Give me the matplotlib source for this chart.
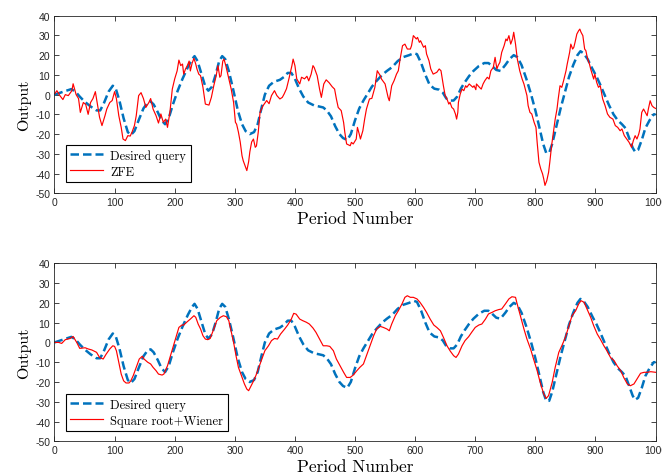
import numpy as np
import matplotlib
matplotlib.use('Agg')
import matplotlib.pyplot as plt

plt.rcParams['font.family'] = 'Liberation Sans'
plt.rcParams['axes.unicode_minus'] = False

# desired query (same in both panels)
desired_x = [0, 10, 20, 28, 35, 42, 50, 60, 70, 76, 82, 90, 97, 102, 108, 115, 122, 127, 133, 140,
             148, 155, 160, 165, 172, 178, 184, 190, 197, 205, 213, 222, 229, 233, 238, 245, 251, 256,
             262, 268, 274, 279, 284, 290, 297, 305, 312, 318, 325, 332, 338, 345, 350, 357, 365, 375,
             382, 388, 394, 400, 407, 414, 422, 432, 440, 447, 453, 460, 467, 474, 480, 487, 493, 500,
             507, 514, 520, 528, 536, 545, 553, 562, 571, 580, 590, 598, 603, 610, 617, 624, 632, 640,
             646, 652, 658, 664, 670, 676, 682, 690, 697, 706, 715, 722, 728, 735, 742, 750, 757, 764,
             770, 777, 785, 793, 800, 807, 813, 818, 823, 828, 835, 842, 849, 856, 863, 870, 875, 880,
             887, 895, 902, 908, 915, 922, 930, 937, 944, 950, 956, 962, 966, 971, 977, 983, 990, 997, 1000]
desired_y = [0, 1, 2, 2.8, 1.5, -1, -3.5, -6, -8, -8, -4.5, 1.5, 4.5, 3, -3, -12, -19, -20.5, -18.5, -13,
             -7, -4, -3.5, -5, -9, -13, -15, -12, -5, 2, 8, 14, 18, 19.5, 17, 10, 4, 2,
             4, 10, 17, 19.5, 18, 12, 3, -8, -15, -18.5, -20, -19, -15, -6, 0, 4.5, 6.5, 7.5,
             9, 11, 11, 8, 3, -1, -4, -5.5, -6, -6.5, -8, -11, -16, -20, -22, -23, -20, -13,
             -7, -3, 0, 4, 7, 10, 12, 14, 17, 19, 20, 21, 20.5, 16, 10, 5, 3, 2.5,
             1, -2, -3, -3, -1, 3, 6, 9.5, 12, 14.5, 16, 16, 14.5, 12.5, 12, 15, 18, 20,
             19, 15, 8, 0, -8, -17, -25, -29.5, -29.5, -25, -16, -7, 1, 9, 15, 20, 22, 21,
             18, 13, 9, 5, 0, -5, -10, -13, -15, -17, -22, -27, -29, -28, -23, -17, -13, -10, -10]

# ZFE estimate (top panel)
zfe_x = [0, 4, 9, 14, 18, 23, 29, 31, 36, 40, 43, 48, 52, 56, 60, 64, 68, 71, 75, 79, 84, 87, 92, 96,
         100, 103, 107, 111, 114, 118, 122, 126, 129, 133, 136, 140, 144, 148, 152, 157, 160, 164, 169,
         173, 177, 181, 185, 188, 192, 196, 200, 204, 207, 210, 213, 215, 218, 221, 224, 226, 229, 232,
         235, 237, 240, 243, 247, 251, 257, 261, 265, 269, 272, 275, 277, 280, 282, 285, 290, 294, 298,
         301, 303, 306, 309, 312, 314, 317, 320, 323, 325, 328, 331, 334, 336, 339, 342, 347, 353, 357,
         361, 366, 370, 375, 379, 382, 386, 390, 395, 397, 400, 403, 408, 411, 416, 420, 423, 427, 430,
         432, 437, 441, 444, 448, 452, 457, 462, 466, 469, 472, 477, 481, 483, 486, 492, 494, 497, 502,
         504, 507, 509, 513, 516, 519, 524, 528, 533, 537, 542, 544, 550, 555, 557, 561, 565, 569, 572,
         575, 579, 583, 587, 592, 594, 597, 602, 604, 607, 609, 614, 617, 619, 623, 626, 630, 636, 640,
         643, 647, 650, 653, 656, 658, 661, 664, 667, 669, 671, 672, 675, 678, 681, 684, 686, 690, 696,
         698, 701, 702, 707, 710, 713, 716, 720, 723, 726, 730, 733, 736, 738, 741, 744, 748, 751, 753,
         756, 759, 762, 764, 767, 770, 774, 778, 781, 786, 788, 791, 794, 798, 801, 803, 806, 809, 812,
         814, 816, 819, 822, 824, 827, 830, 833, 836, 838, 841, 844, 847, 851, 853, 857, 859, 862, 864,
         866, 869, 872, 874, 876, 879, 882, 884, 887, 890, 892, 897, 899, 902, 905, 908, 912, 916, 920,
         924, 929, 933, 937, 941, 944, 948, 952, 956, 960, 963, 966, 969, 972, 974, 977, 980, 983, 986,
         988, 991, 994, 997, 1000]
zfe_y = [0.3, 2, -0.5, -2.5, 0, -0.5, 2, 5.5, 0, -2, -9, -4, -5, -10, -4, -2, 1.5, -4, -11.5, -15.7, -10.7, -7.3, -4, -3,
         1.5, -2, -10.7, -16.6, -22.5, -23.3, -20.8, -21, -19, -15.7, -10.7, -0.5, 1, -2, -6.5, -4, -2, -7.3, -10.7,
         -14.4, -9.8, -14, -12.4, -16.6, -9, 2.8, 8, 12, 17.5, 14.7, 15.5, 10.4, 13, 14.7, 17, 12, 16, 18.4,
         15.5, 13, 10.4, 9.6, 3.7, -4.8, -5.3, -1.4, 4.5, 9.6, 14.7, 8.8, 9.6, 17, 18, 14.7, 8, 2.8, -4,
         -14, -15, -19, -24, -31, -33.5, -36, -38.5, -34, -29, -24, -22.5, -26.7, -26, -19, -9, -5.6, -3, -4.6,
         -0.5, 2, -0.5, -2.2, -1.4, 0.3, 3, 8, 14.7, 18, 14.7, 8, 5.4, 8.8, 8, 9.3, 7, 10.4, 14.7,
         13.8, 9.6, 2.8, -1.4, 5.4, 7.5, 6, 4, 2.8, -2.2, -6.5, -8.1, -14.1, -19.1, -25, -25.9, -24.2, -25, -22.5,
         -16.6, -20, -22.5, -18.3, -12.4, -7.3, -2.2, -1.9, 3.7, 12.1, 9.6, 7.9, 5.4, -1.4, -3.1, 4.5, 7.1, 10.4, 12.1,
         18, 24.8, 25.6, 23.1, 23.1, 24.8, 29.9, 28.2, 29, 26.5, 27.3, 24, 24.8, 20.6, 17.2, 13, 10.4, 11.3, 13,
         12.1, 4.5, -0.5, -2.2, -4.8, -3.9, -6.5, -7.3, -9.8, -12.4, -9, -3.9, 0.3, 2.8, 2, 4.5, 3.7, 5.4, 3.7,
         4.5, 2.5, 5.4, 3.7, 2.8, 5.4, 7.1, 8.8, 7.9, 12.1, 13.8, 18.9, 13, 14.7, 16.4, 21.4, 24.8, 28.2, 27.3,
         29.9, 25.6, 28.2, 31.6, 25.6, 18, 12.1, 7.9, 5.4, -0.5, -5.6, -9, -9.8, -14.1, -16.6, -24.2, -34.3, -37.7, -40.2,
         -42.8, -46, -43.6, -39.4, -34.3, -25.9, -19.1, -12.4, -7.3, -2.2, 4.5, 3.7, 7.1, 12.1, 15.5, 21.4, 25.6, 23.1, 24,
         26.5, 30.7, 32.4, 33.2, 31.6, 29.9, 23.1, 22.3, 18, 15.5, 13, 7.9, 10.4, 6.2, 3.7, 4.5, -2.2, -5.6, -9.8,
         -11.5, -12.4, -15.7, -16.6, -18.3, -17.4, -20.8, -22.5, -24.2, -26.7, -23.3, -20.8, -22.5, -20, -17.4, -9, -7.3, -9, -10.7,
         -7.3, -3.1, -5.6, -6.5, -7]

# Square root + Wiener estimate (bottom panel)
srw_x = [0, 7, 12, 18, 26, 31, 37, 42, 51, 56, 62, 70, 75, 81, 86, 92, 97, 100, 103, 107, 111, 115, 119,
         124, 127, 131, 136, 141, 146, 149, 155, 160, 164, 169, 173, 179, 182, 188, 193, 197, 202, 207,
         212, 215, 221, 226, 232, 235, 239, 243, 247, 251, 255, 259, 265, 270, 276, 281, 286, 290, 293,
         298, 302, 306, 312, 316, 320, 323, 325, 330, 335, 339, 345, 350, 356, 361, 366, 371, 376, 383,
         388, 394, 398, 402, 408, 413, 419, 424, 430, 435, 441, 447, 453, 458, 464, 469, 475, 481, 486,
         492, 497, 503, 508, 514, 519, 525, 531, 536, 542, 547, 553, 557, 561, 567, 572, 578, 583, 587,
         592, 597, 603, 608, 614, 619, 625, 631, 636, 642, 647, 653, 658, 664, 668, 672, 678, 683, 689,
         694, 700, 706, 711, 717, 722, 728, 733, 739, 744, 750, 756, 761, 767, 769, 775, 781, 786, 792,
         797, 803, 808, 814, 818, 822, 828, 833, 839, 844, 850, 856, 861, 867, 872, 876, 881, 886, 892,
         897, 903, 908, 914, 919, 925, 931, 936, 942, 947, 953, 958, 964, 969, 975, 981, 986, 992, 1000]
srw_y = [0, 0, -0.5, 1.4, 2, 3, 0, -3, -2.7, -3.3, -3.8, -5, -7.6, -8.4, -5.9, -3.3, -1.7, -2, -4.2, -10, -16, -19.4, -20.5,
         -20.5, -19.4, -16.8, -12.6, -8.4, -7, -8.4, -10, -10.9, -12.6, -14.3, -16, -16.5, -16, -11.8, -6.7, -2.5, 2.6, 7.6,
         8.8, 8.8, 10.5, 11.8, 13.5, 12.7, 9.3, 6.8, 3.4, 1.7, 1.4, 2, 6.8, 11, 12.7, 13.5, 13, 11, 6.8,
         0, -6.7, -12.6, -17.7, -21, -23.6, -24.4, -23.2, -20.2, -16.8, -13.5, -8.4, -4.2, -1.7, 0.9, 2, 1.7, 4.2, 6.8,
         8.8, 11.8, 14.7, 14.3, 11.8, 11, 10.2, 9.3, 7.3, 5.1, 1.7, -1.7, -1.7, -2, -4.2, -8.4, -11.8, -15.1, -17.7,
         -17.7, -16.5, -14.3, -12.6, -10.9, -6.7, -1.7, 3.4, 6.8, 8.1, 7.6, 6.8, 5.9, 9.3, 13.5, 16, 19.4, 22.8, 23.6,
         22.8, 22.8, 22, 20.3, 17.7, 15.2, 11.8, 8.8, 7.6, 5.9, 2.6, -1.7, -4.2, -6.7, -7.6, -5.9, -1.7, 0.9, 2.9,
         5.1, 7.6, 8.8, 9.3, 11.8, 14.4, 15.2, 16, 16.6, 16.9, 19.4, 22, 23.1, 22.8, 20.3, 13.5, 6.8, 1.7, -3.3,
         -8.4, -14.3, -20.2, -26.1, -28.3, -26.9, -20.2, -12.6, -5, -1.7, 2.6, 8.5, 13.5, 16, 19.4, 21.1, 20.3, 16.9, 12.7,
         8.5, 4.2, 1.7, -1.7, -4.2, -7.6, -9.2, -11.8, -14.3, -17.7, -21, -21.9, -21, -18.5, -15.6, -15.1, -15.1, -14.8, -15.1]

fig = plt.figure(figsize=(6.62, 4.77), dpi=100)
ax1 = fig.add_axes([0.0823, 0.5927, 0.908, 0.3723])
ax2 = fig.add_axes([0.0823, 0.0727, 0.908, 0.3732])


def draw_panel(ax, est_x, est_y, est_label, leg_y):
    ax.plot(desired_x, desired_y, color='#0072BD', lw=1.8, dashes=(3.4, 1.6), label='Desired query')
    ax.plot(est_x, est_y, color='#FF0000', lw=0.85, label=est_label)
    ax.set_xlim(0, 1000)
    ax.set_ylim(-50, 40)
    ax.set_xticks(range(0, 1001, 100))
    ax.set_yticks(range(-50, 41, 10))
    ax.tick_params(direction='in', top=True, right=True, labelsize=7.5,
                   colors='#262626', length=3.5, width=0.6, pad=3)
    for s in ax.spines.values():
        s.set_color('#262626')
        s.set_linewidth(0.6)
    ax.set_xlabel('Period Number', family='cmr10', fontsize=12.5, labelpad=2)
    ax.set_ylabel('Output', family='cmr10', fontsize=11.5, labelpad=3)
    leg = ax.legend(loc='lower left', bbox_to_anchor=(0.019, leg_y), borderaxespad=0,
                    prop={'family': 'cmr10', 'size': 9}, fancybox=False,
                    edgecolor='black', framealpha=1, handlelength=2.6,
                    labelspacing=0.3, borderpad=0.35, handletextpad=0.6)
    leg.get_frame().set_linewidth(0.8)


draw_panel(ax1, zfe_x, zfe_y, 'ZFE', 0.064)
draw_panel(ax2, srw_x, srw_y, 'Square root+Wiener', 0.058)

fig.savefig('out.png', dpi=100)
